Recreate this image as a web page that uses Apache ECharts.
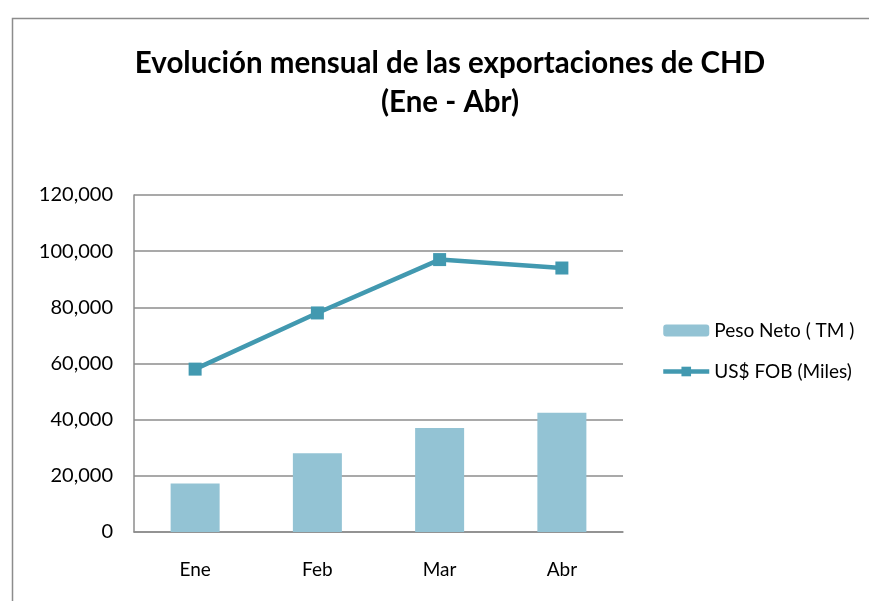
<!DOCTYPE html>
<html>
<head>
<meta charset="utf-8">
<script src="https://cdn.jsdelivr.net/npm/echarts@6/dist/echarts.min.js"></script>
<style>
  html, body { margin: 0; padding: 0; background: #fff; }
  #chart { width: 869px; height: 601px; }
</style>
</head>
<body>
<div id="chart"></div>
<script>
const months = ['Ene', 'Feb', 'Mar', 'Abr']
const pesoNeto = [17300, 28000, 37000, 42500]
const fobMiles = [58000, 78000, 97000, 94000]
const yTicks = [0, 20000, 40000, 60000, 80000, 100000, 120000]

const font = 'Lato, "Open Sans", sans-serif'
const chart = echarts.init(document.getElementById('chart'))

chart.setOption({
  animation: false,
  textStyle: { fontFamily: font },
  graphic: [
    // outer chart frame, runs off the right and bottom edges
    { type: 'rect', left: 10, top: 16, shape: { width: 900, height: 620 },
      style: { fill: 'none', stroke: '#8c8c8c', lineWidth: 1.5 } }
  ],
  title: {
    text: 'Evolución mensual de las exportaciones de CHD\n(Ene - Abr)',
    left: 445,
    textAlign: 'center',
    top: 39,
    textStyle: { fontFamily: font, fontWeight: 'bold', fontSize: 29.5, lineHeight: 39, color: '#000' }
  },
  legend: {
    orient: 'vertical',
    left: 656,
    top: 316,
    itemGap: 22,
    itemWidth: 46,
    itemHeight: 12,
    textStyle: { fontFamily: font, fontSize: 19, color: '#000' },
    data: [
      { name: 'Peso Neto ( TM )' },
      { name: 'US$ FOB (Miles)', lineStyle: { width: 4.5 } }
    ]
  },
  grid: { left: 134, right: 246, top: 195, bottom: 69 },
  xAxis: {
    type: 'category',
    data: months,
    axisLine: { lineStyle: { color: '#8c8c8c', width: 1.5 } },
    axisTick: { show: false },
    axisLabel: { color: '#000', fontSize: 19, margin: 28, fontFamily: font }
  },
  yAxis: {
    type: 'value',
    min: yTicks[0],
    max: yTicks[yTicks.length - 1],
    interval: 20000,
    axisLine: { show: true, lineStyle: { color: '#8c8c8c', width: 1.5 } },
    axisTick: { show: false },
    splitLine: { lineStyle: { color: '#8c8c8c', width: 1.5 } },
    axisLabel: {
      color: '#000', fontSize: 20, margin: 21, fontFamily: font,
      formatter: v => v.toLocaleString('en-US')
    }
  },
  series: [
    {
      name: 'Peso Neto ( TM )',
      type: 'bar',
      data: pesoNeto,
      barWidth: 49,
      itemStyle: { color: '#93c3d4' }
    },
    {
      name: 'US$ FOB (Miles)',
      type: 'line',
      data: fobMiles,
      symbol: 'rect',
      symbolSize: 13,
      lineStyle: { color: '#4299b0', width: 4.5 },
      itemStyle: { color: '#4299b0' }
    }
  ]
})
</script>
</body>
</html>
